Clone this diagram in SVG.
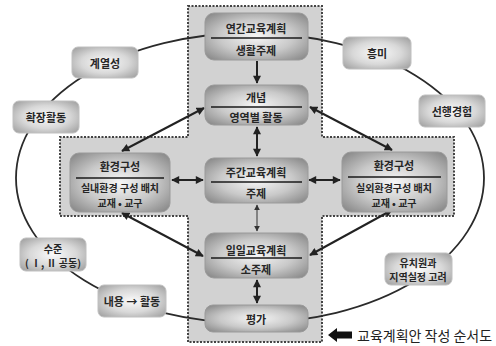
<svg xmlns="http://www.w3.org/2000/svg" width="496" height="346" viewBox="0 0 496 346">
<defs>
<radialGradient id="gBox" cx="50%" cy="50%" r="65%">
<stop offset="0" stop-color="#f6f6f6"/>
<stop offset="0.55" stop-color="#c9c9c9"/>
<stop offset="1" stop-color="#8c8c8c"/>
</radialGradient>
<radialGradient id="gOut" cx="50%" cy="50%" r="65%">
<stop offset="0" stop-color="#fafafa"/>
<stop offset="0.55" stop-color="#d8d8d8"/>
<stop offset="1" stop-color="#a4a4a4"/>
</radialGradient>
<marker id="ah" viewBox="0 0 10 10" refX="9" refY="5" markerWidth="9" markerHeight="8" markerUnits="userSpaceOnUse" orient="auto-start-reverse">
<path d="M0,0 L10,5 L0,10 Z" fill="#222"/>
</marker>
<marker id="ahs" viewBox="0 0 10 10" refX="9" refY="5" markerWidth="6" markerHeight="6" markerUnits="userSpaceOnUse" orient="auto-start-reverse">
<path d="M0,0 L10,5 L0,10 Z" fill="#333"/>
</marker>
<style>
.box{fill:url(#gBox);stroke:#9a9a9a;stroke-width:1}
.out{fill:url(#gOut);stroke:#c0c0c0;stroke-width:1}
.t{font-family:"Noto Sans CJK KR","Noto Sans",sans-serif;font-size:11px;font-weight:bold;fill:#262626;text-anchor:middle;dominant-baseline:central}
.s{font-size:10px}
.div{stroke:#1a1a1a;stroke-width:1.3}
.a{stroke:#222;stroke-width:2;fill:none}
.as{stroke:#333;stroke-width:1;fill:none}
.ring{stroke:#2a2a2a;stroke-width:1.8;fill:none}
</style>
</defs>
<rect width="496" height="346" fill="#ffffff"/>
<path d="M188,6 H322 V137 H454 V216 H322 V342 H188 V216 H60 V137 H188 Z" fill="#d2d2d2" stroke="#444" stroke-width="2" stroke-dasharray="2,1.5"/>
<ellipse class="ring" cx="250" cy="178" rx="234" ry="145"/>
<g id="connectors">
<line class="a" x1="257" y1="61" x2="257" y2="83" marker-end="url(#ah)"/>
<line class="a" x1="257" y1="127" x2="257" y2="156" marker-start="url(#ah)" marker-end="url(#ah)"/>
<line class="as" x1="257" y1="205" x2="257" y2="231" marker-start="url(#ahs)" marker-end="url(#ahs)"/>
<line class="a" x1="257" y1="280" x2="257" y2="303" marker-start="url(#ah)" marker-end="url(#ah)"/>
<line class="a" x1="172" y1="180" x2="203" y2="180" marker-start="url(#ah)" marker-end="url(#ah)"/>
<line class="a" x1="309" y1="180" x2="340" y2="180" marker-start="url(#ah)" marker-end="url(#ah)"/>
<line class="a" x1="204" y1="108" x2="122" y2="151" marker-start="url(#ah)" marker-end="url(#ah)"/>
<line class="a" x1="310" y1="107" x2="392" y2="150" marker-start="url(#ah)" marker-end="url(#ah)"/>
<line class="a" x1="122" y1="213" x2="203" y2="256" marker-start="url(#ah)" marker-end="url(#ah)"/>
<line class="a" x1="392" y1="210" x2="310" y2="255" marker-start="url(#ah)" marker-end="url(#ah)"/>
</g>
<g id="n-yearly">
<rect class="box" x="205" y="13" width="103" height="47" rx="9"/>
<line class="div" x1="211" y1="38" x2="302" y2="38"/>
<text class="t" x="256" y="28">연간교육계획</text>
<text class="t" x="256" y="50">생활주제</text>
</g>
<g id="n-concept">
<rect class="box" x="205" y="85" width="103" height="40" rx="9"/>
<line class="div" x1="211" y1="107" x2="302" y2="107"/>
<text class="t" x="256" y="97">개념</text>
<text class="t" x="256" y="117">영역별 활동</text>
</g>
<g id="n-weekly">
<rect class="box" x="205" y="158" width="103" height="45" rx="9"/>
<line class="div" x1="211" y1="182" x2="302" y2="182"/>
<text class="t" x="256" y="172">주간교육계획</text>
<text class="t" x="256" y="193">주제</text>
</g>
<g id="n-daily">
<rect class="box" x="205" y="233" width="103" height="45" rx="9"/>
<line class="div" x1="211" y1="258" x2="302" y2="258"/>
<text class="t" x="256" y="250">일일교육계획</text>
<text class="t" x="256" y="269">소주제</text>
</g>
<g id="n-eval">
<rect class="box" x="205" y="305" width="103" height="27" rx="8"/>
<text class="t" x="256" y="319">평가</text>
</g>
<g id="n-env-in">
<rect class="box" x="70" y="153" width="100" height="59" rx="9"/>
<line class="div" x1="76" y1="178" x2="164" y2="178"/>
<text class="t" x="120" y="166">환경구성</text>
<text class="t s" x="120" y="187">실내환경 구성 배치</text>
<text class="t s" x="120" y="202">교재 • 교구</text>
</g>
<g id="n-env-out">
<rect class="box" x="342" y="152" width="105" height="60" rx="9"/>
<line class="div" x1="348" y1="177" x2="441" y2="177"/>
<text class="t" x="394" y="165">환경구성</text>
<text class="t s" x="394" y="187">실외환경구성 배치</text>
<text class="t s" x="394" y="202">교재 • 교구</text>
</g>
<g id="n-sequence">
<rect class="out" x="72" y="47" width="66" height="31" rx="6"/>
<text class="t" x="105" y="63">계열성</text>
</g>
<g id="n-extension">
<rect class="out" x="13" y="101" width="66" height="32" rx="6"/>
<text class="t" x="46" y="117">확장활동</text>
</g>
<g id="n-interest">
<rect class="out" x="343" y="37" width="68" height="32" rx="6"/>
<text class="t" x="377" y="53">흥미</text>
</g>
<g id="n-prior">
<rect class="out" x="419" y="95" width="66" height="32" rx="6"/>
<text class="t" x="452" y="111">선행경험</text>
</g>
<g id="n-level">
<rect class="out" x="20" y="238" width="66" height="33" rx="6"/>
<text class="t s" x="53" y="248">수준</text>
<text class="t s" x="53" y="262">( Ⅰ, Ⅱ 공동)</text>
</g>
<g id="n-content">
<rect class="out" x="98" y="285" width="68" height="32" rx="6"/>
<text class="t" x="132" y="301">내용 → 활동</text>
</g>
<g id="n-local">
<rect class="out" x="385" y="253" width="67" height="32" rx="6"/>
<text class="t s" x="418" y="262">유치원과</text>
<text class="t s" x="418" y="276">지역실정 고려</text>
</g>
<g id="legend">
<path d="M328,335 L337,328 V331.5 H352 V338.5 H337 V342 Z" fill="#111"/>
<text x="357" y="335" font-family="'Noto Sans CJK KR',sans-serif" font-size="14" fill="#222" dominant-baseline="central">교육계획안 작성 순서도</text>
</g>
</svg>
